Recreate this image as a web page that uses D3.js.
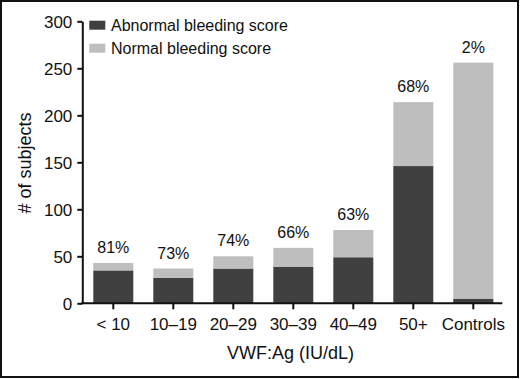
<!DOCTYPE html>
<html>
<head>
<meta charset="utf-8">
<script src="https://cdn.jsdelivr.net/npm/d3@7"></script>
<style>
  body { margin: 0; background: #fff; }
  svg text { font-family: "Liberation Sans", Arial, Helvetica, sans-serif; fill: #111; }
</style>
</head>
<body>
<div id="chart"></div>
<script>
// data
var categories = ['< 10', '10–19', '20–29', '30–39', '40–49', '50+', 'Controls'];
var abnormal = [35, 27, 37, 39, 49, 146, 5];
var normal = [8, 10, 13, 20, 29, 68, 251];
var pctLabels = ['81%', '73%', '74%', '66%', '63%', '68%', '2%'];
var yTicks = [0, 50, 100, 150, 200, 250, 300];
var seriesNames = ['Abnormal bleeding score', 'Normal bleeding score'];

var darkColor = '#404040';
var lightColor = '#bebebe';

var w = 520, h = 379;

var svg = d3.select('#chart')
            .append('svg')
            .attr('width', w)
            .attr('height', h);

// frame
svg.append('rect')
   .attr('x', 1).attr('y', 1)
   .attr('width', w - 3).attr('height', h - 3)
   .attr('fill', 'none')
   .attr('stroke', '#111')
   .attr('stroke-width', 2);

var xScale = d3.scaleBand()
               .domain(categories)
               .range([83.3, 503.3])
               .paddingInner(1/3)
               .paddingOuter(1/6);

var yScale = d3.scaleLinear()
               .domain([0, 300])
               .range([303.3, 21.3]);

var rows = categories.map(function(c, i) {
  return { cat: c, ab: abnormal[i], no: normal[i], pct: pctLabels[i] };
});

// stacked bars
var g = svg.append('g');
g.selectAll('.ab')
 .data(rows)
 .enter()
 .append('rect')
 .attr('class', 'ab')
 .attr('x', function(d) { return xScale(d.cat); })
 .attr('width', xScale.bandwidth())
 .attr('y', function(d) { return yScale(d.ab); })
 .attr('height', function(d) { return yScale(0) - yScale(d.ab); })
 .attr('fill', darkColor);

g.selectAll('.no')
 .data(rows)
 .enter()
 .append('rect')
 .attr('class', 'no')
 .attr('x', function(d) { return xScale(d.cat); })
 .attr('width', xScale.bandwidth())
 .attr('y', function(d) { return yScale(d.ab + d.no); })
 .attr('height', function(d) { return yScale(d.ab) - yScale(d.ab + d.no); })
 .attr('fill', lightColor);

g.selectAll('.pct')
 .data(rows)
 .enter()
 .append('text')
 .attr('class', 'pct')
 .attr('x', function(d) { return xScale(d.cat) + xScale.bandwidth() / 2; })
 .attr('y', function(d) { return yScale(d.ab + d.no) - 10; })
 .attr('text-anchor', 'middle')
 .style('font-size', '16px')
 .text(function(d) { return d.pct; });

// axes
var xAxis = d3.axisBottom(xScale).tickSize(6).tickSizeOuter(0).tickPadding(6);
var yAxis = d3.axisLeft(yScale).tickValues(yTicks).tickSize(5).tickSizeOuter(0).tickPadding(5);

var gx = svg.append('g')
            .attr('transform', 'translate(0,' + yScale(0) + ')')
            .call(xAxis);
gx.select('.domain').attr('d', 'M81.3,0H502.3');

var gy = svg.append('g')
            .attr('transform', 'translate(82.3,0)')
            .call(yAxis);

[gx, gy].forEach(function(a) {
  a.selectAll('path, line').attr('stroke', '#111').attr('stroke-width', 2);
  a.selectAll('text')
   .style('font-size', '17px')
   .style('font-family', '"Liberation Sans", Arial, sans-serif')
   .attr('fill', '#111');
});
gx.selectAll('text').attr('dy', null).attr('y', 27);
gy.selectAll('text').attr('dy', '0.36em');

// axis titles
svg.append('text')
   .attr('x', 290.5)
   .attr('y', 359)
   .attr('text-anchor', 'middle')
   .style('font-size', '18px')
   .text('VWF:Ag (IU/dL)');

svg.append('text')
   .attr('transform', 'translate(30.5,163) rotate(-90)')
   .attr('text-anchor', 'middle')
   .style('font-size', '18px')
   .text('# of subjects');

// legend
var legend = svg.append('g');
seriesNames.forEach(function(name, i) {
  legend.append('rect')
        .attr('x', 89.3)
        .attr('y', 20.7 + i * 23)
        .attr('width', 16)
        .attr('height', 9)
        .attr('fill', i == 0 ? darkColor : lightColor);
  legend.append('text')
        .attr('x', 111)
        .attr('y', 30.7 + i * 23)
        .style('font-size', '16px')
        .text(name);
});
</script>
</body>
</html>
